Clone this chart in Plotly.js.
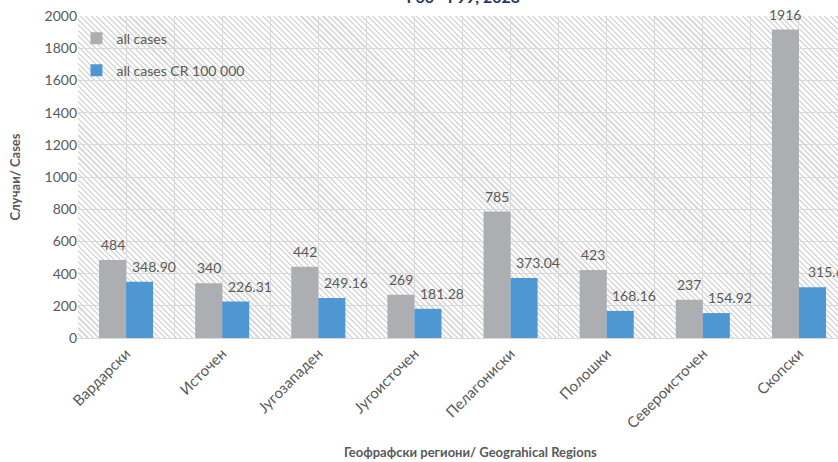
<!DOCTYPE html>
<html>
<head>
<meta charset="utf-8">
<script src="https://cdn.plot.ly/plotly-3.0.1.min.js"></script>
<style>
html,body{margin:0;padding:0;background:#fff;overflow:hidden;width:838px;height:462px;}
#wrap{position:relative;width:850px;height:462px;}
#bg{position:absolute;left:78px;top:16px;width:769px;height:322px;
 background:repeating-linear-gradient(45deg,#ffffff 0px,#ffffff 2.4px,#dadada 2.4px,#dadada 3.9px);}
#chart{position:absolute;left:0;top:0;width:850px;height:462px;}
</style>
</head>
<body>
<div id="wrap"><div id="bg"></div><div id="chart"></div></div>
<script>
const categories = ["Вардарски","Источен","Југозападен","Југоисточен","Пелагониски","Полошки","Североисточен","Скопски"];
const allCases = [484, 340, 442, 269, 785, 423, 237, 1916];
const casesRate = [348.90, 226.31, 249.16, 181.28, 373.04, 168.16, 154.92, 315.6];
const rateLabels = ["348.90","226.31","249.16","181.28","373.04","168.16","154.92","315.6"];
const yTicks = [0,200,400,600,800,1000,1200,1400,1600,1800,2000];
const seriesNames = ["all cases","all cases CR 100 000"];
const chartTitle = "F00 - F99, 2023";
const xTitle = "Геофрафски региони/ Geograhical Regions";
const yTitle = "Случаи/ Cases";

const idx = categories.map((_, i) => i);
const grayC = "#ADAEB2", blueC = "#4E97D3", txtC = "#595959";
const FONT = "Lato, sans-serif";
const bw = (1 - 0.4375) / 2;

const traces = [
  {type:"bar", name:seriesNames[0], x:idx, y:allCases, marker:{color:grayC}, legend:"legend", hoverinfo:"none"},
  {type:"bar", name:seriesNames[1], x:idx, y:casesRate, marker:{color:blueC}, legend:"legend2", hoverinfo:"none"}
];

const annotations = [];
allCases.forEach((v, i) => annotations.push({x:i - bw/2, y:v, xref:"x", yref:"y", text:String(v), showarrow:false,
  yanchor:"bottom", yshift:5, font:{size:14, color:txtC, family:FONT}}));
casesRate.forEach((v, i) => annotations.push({x:i + bw/2, y:v, xref:"x", yref:"y", text:rateLabels[i], showarrow:false,
  yanchor:"bottom", yshift:5, xshift:14, font:{size:14, color:txtC, family:FONT}}));
annotations.push({x:0.511, y:-0.354, xref:"paper", yref:"paper", text:"<b>"+xTitle+"</b>", showarrow:false,
  xanchor:"center", yanchor:"middle", font:{size:13, color:txtC, family:FONT}});

const layout = {
  width:850, height:462,
  margin:{l:78, r:3, t:16, b:124},
  paper_bgcolor:"rgba(0,0,0,0)", plot_bgcolor:"rgba(0,0,0,0)",
  font:{family:FONT, color:txtC},
  title:{text:"<b>"+chartTitle+"</b>", font:{size:16, color:"#1F3864"}, x:0.545, xanchor:"center", yref:"container", y:0.993, yanchor:"bottom"},
  barmode:"group", bargap:0.4375, bargroupgap:0,
  xaxis:{range:[-0.5, 7.5], tickvals:idx, ticktext:categories, tickangle:-45, ticks:"", tickfont:{size:15, color:txtC},
    showgrid:true, gridcolor:"#d9d9d9", gridwidth:1, minor:{dtick:0.5, tick0:0.5, showgrid:true, gridcolor:"#d9d9d9", gridwidth:1},
    showline:true, linecolor:"#d9d9d9", linewidth:1, zeroline:false, fixedrange:true},
  yaxis:{range:[0, 2000], tickvals:yTicks, ticks:"", tickfont:{size:14, color:txtC},
    showgrid:true, gridcolor:"#d9d9d9", gridwidth:1, zeroline:false, showline:false, fixedrange:true,
    title:{text:"<b>"+yTitle+"</b>", font:{size:13, color:txtC}, standoff:20}},
  legend:{x:-0.002, y:0.93, xanchor:"left", yanchor:"middle", bgcolor:"rgba(0,0,0,0)", font:{size:14, color:txtC}},
  legend2:{x:-0.002, y:0.83, xanchor:"left", yanchor:"middle", bgcolor:"rgba(0,0,0,0)", font:{size:14, color:txtC}},
  annotations:annotations,
  showlegend:true
};

Plotly.newPlot("chart", traces, layout, {displayModeBar:false, staticPlot:true});
</script>
</body>
</html>
